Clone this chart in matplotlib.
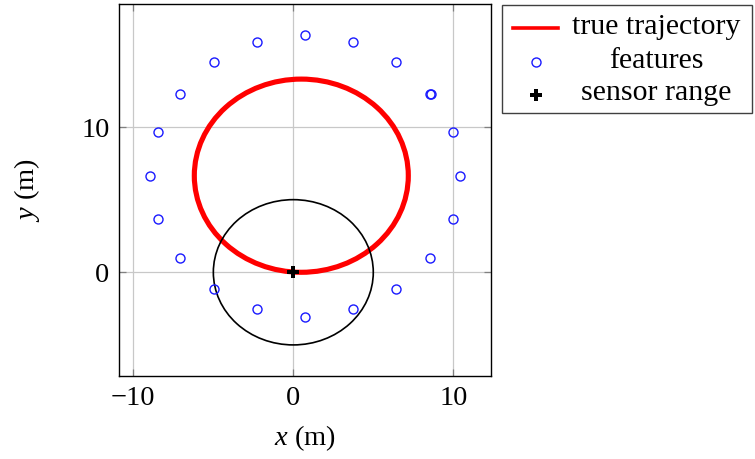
import matplotlib
matplotlib.use("Agg")
import matplotlib.pyplot as plt
from matplotlib.patches import Ellipse, Circle, Rectangle
from matplotlib.lines import Line2D

plt.rcParams["font.family"] = ["Liberation Serif", "DejaVu Serif"]
plt.rcParams["mathtext.fontset"] = "custom"
plt.rcParams["mathtext.rm"] = "Liberation Serif"
plt.rcParams["mathtext.it"] = "Liberation Serif:italic"

# Landmark (feature) positions in metres
feat_x = [0.75, 3.73, -2.25, 6.44, -4.96, 8.56, 8.58, -7.10, 9.96, -8.46,
          10.42, -8.96, 9.96, -8.46, 8.56, -7.10, 6.44, -4.96, 3.73, -2.25, 0.75]
feat_y = [16.33, 15.83, 15.83, 14.45, 14.45, 12.29, 12.27, 12.29, 9.63, 9.63,
          6.65, 6.65, 3.65, 3.65, 0.96, 0.96, -1.17, -1.17, -2.55, -2.55, -3.05]

# True trajectory: closed loop (centre, width, height)
traj_center = (0.5, 6.65)
traj_width = 13.38
traj_height = 13.30

# Sensor position and range
sensor_xy = (0.0, 0.0)
sensor_range = 5.0

xticks = [-10, 0, 10]
yticks = [0, 10]
xlim = (-10.88, 12.36)
ylim = (-7.14, 18.47)

FS = 20.5
LFS = 21.5

W, H = 755, 459
fig = plt.figure(figsize=(W / 100, H / 100), dpi=100)
ax = fig.add_axes([119.3 / W, 1 - 376 / H, (491 - 119.3) / W, (376 - 4) / H])

ax.add_patch(Ellipse(traj_center, traj_width, traj_height, fill=False,
                     edgecolor="#ff0000", lw=3.7, zorder=3))
ax.add_patch(Circle(sensor_xy, sensor_range, fill=False,
                    edgecolor="black", lw=1.2, zorder=4))
ax.plot(feat_x, feat_y, linestyle="none", marker="o", ms=6.5,
        mfc="none", mec="#1a1aff", mew=1.0, zorder=5)
ax.plot([sensor_xy[0]], [sensor_xy[1]], linestyle="none", marker="P",
        ms=8, color="black", mew=0, zorder=6)

ax.set_xlim(*xlim)
ax.set_ylim(*ylim)
ax.set_xticks(xticks)
ax.set_yticks(yticks)
ax.set_xticklabels(["\u221210", "0", "10"])
ax.set_yticklabels(["0", "10"])
ax.grid(True, color="#c8c8c8", lw=0.9, zorder=0)
ax.set_axisbelow(True)
ax.tick_params(direction="in", length=5, width=0.9, color="#808080",
               top=True, right=True, labelsize=FS, pad=7)
for s in ax.spines.values():
    s.set_linewidth(1.0)
    s.set_color("black")

ax.set_xlabel(r"$x$ (m)", fontsize=FS, labelpad=9)
ax.set_ylabel(r"$y$ (m)", fontsize=FS, labelpad=28)

# Legend box drawn in figure pixel coordinates
def fx(px):
    return px / W

def fy(py):
    return 1 - py / H

fig.add_artist(Rectangle((fx(502), fy(113)), fx(752) - fx(502), fy(5) - fy(113),
                         transform=fig.transFigure, fill=True, facecolor="white",
                         edgecolor="#404040", lw=1.0))
fig.add_artist(Line2D([fx(513), fx(558)], [fy(27.5), fy(27.5)],
                      transform=fig.transFigure, color="#ff0000", lw=2.6))
fig.add_artist(Line2D([fx(536)], [fy(62)], transform=fig.transFigure,
                      linestyle="none", marker="o", ms=6.5, mfc="none",
                      mec="#1a1aff", mew=1.0))
fig.add_artist(Line2D([fx(536)], [fy(95)], transform=fig.transFigure,
                      linestyle="none", marker="P", ms=8, color="black", mew=0))
labels = ["true trajectory", "features", "sensor range"]
rows = [27.5, 61.5, 92.5]
for lab, ry in zip(labels, rows):
    fig.text(fx(656), fy(ry), lab, ha="center", va="center", fontsize=LFS)

fig.savefig("out.png", dpi=100)
